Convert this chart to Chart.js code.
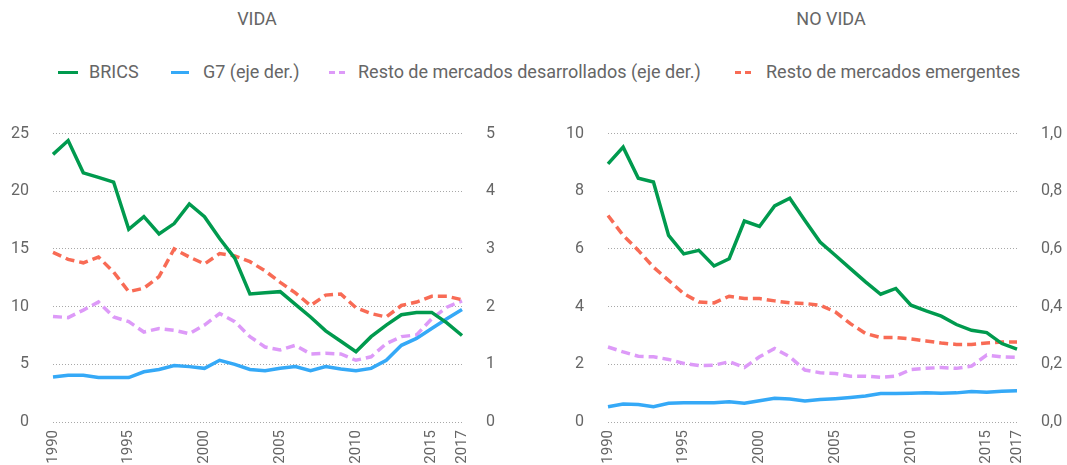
<!DOCTYPE html>
<html>
<head>
  <title>VIDA / NO VIDA</title>
  <script src="https://cdn.jsdelivr.net/npm/chart.js"></script>
  <style>
    body { margin: 0; background: #fff; font-family: Roboto, sans-serif; color: #666; }
    #wrap { position: relative; width: 1067px; height: 465px; overflow: hidden; }
    .title { position: absolute; top: 8px; font-size: 18px; transform: translateX(-50%); white-space: nowrap; }
    .leg { position: absolute; top: 61px; font-size: 18px; white-space: nowrap; line-height: 22px; }
    .mark { position: absolute; top: 71px; height: 3px; }
    .box { position: absolute; top: 100px; height: 365px; }
  </style>
</head>
<body>
<div id="wrap">
  <div class="title" style="left:257px">VIDA</div>
  <div class="title" style="left:831px">NO VIDA</div>

  <div class="mark" style="left:58px;width:20px;background:#009a4e"></div>
  <div class="leg" style="left:89px">BRICS</div>
  <div class="mark" style="left:171px;width:18px;background:#35a9f7"></div>
  <div class="leg" style="left:203px">G7 (eje der.)</div>
  <div class="mark" style="left:329px;width:6px;background:#dd9af8"></div>
  <div class="mark" style="left:339px;width:6px;background:#dd9af8"></div>
  <div class="leg" style="left:358px">Resto de mercados desarrollados (eje der.)</div>
  <div class="mark" style="left:735px;width:6px;background:#f86b55"></div>
  <div class="mark" style="left:745px;width:6px;background:#f86b55"></div>
  <div class="leg" style="left:766px">Resto de mercados emergentes</div>

  <div class="box" style="left:0;width:533px"><canvas id="vida" width="533" height="365"></canvas></div>
  <div class="box" style="left:533px;width:534px"><canvas id="noVida" width="534" height="365"></canvas></div>
</div>

<script>
  const years = [1990, 1991, 1992, 1993, 1994, 1995, 1996, 1997, 1998, 1999,
                 2000, 2001, 2002, 2003, 2004, 2005, 2006, 2007, 2008, 2009,
                 2010, 2011, 2012, 2013, 2014, 2015, 2016, 2017];
  const shownYears = [1990, 1995, 2000, 2005, 2010, 2015, 2017];

  // VIDA (BRICS y emergentes en eje izq., G7 y desarrollados en eje der.)
  const vidaBrics = [23.2, 24.4, 21.6, 21.2, 20.8, 16.7, 17.8, 16.3, 17.2, 18.9,
                     17.8, 15.9, 14.2, 11.1, 11.2, 11.3, 10.2, 9.1, 7.9, 7.0,
                     6.1, 7.4, 8.4, 9.3, 9.5, 9.5, 8.6, 7.5];
  const vidaG7 = [0.78, 0.81, 0.81, 0.77, 0.77, 0.77, 0.87, 0.91, 0.98, 0.96,
                  0.93, 1.07, 1.00, 0.91, 0.89, 0.93, 0.96, 0.89, 0.96, 0.92,
                  0.89, 0.93, 1.07, 1.33, 1.45, 1.62, 1.79, 1.95];
  const vidaDesarr = [1.83, 1.81, 1.94, 2.08, 1.82, 1.74, 1.56, 1.62, 1.59, 1.53,
                      1.68, 1.88, 1.74, 1.48, 1.30, 1.25, 1.33, 1.18, 1.19, 1.18,
                      1.07, 1.13, 1.36, 1.48, 1.51, 1.79, 1.99, 2.10];
  const vidaEmerg = [14.7, 14.1, 13.8, 14.3, 13.0, 11.3, 11.6, 12.6, 15.0, 14.3,
                     13.7, 14.6, 14.4, 13.9, 13.1, 12.1, 11.2, 10.1, 11.0, 11.1,
                     9.9, 9.4, 9.1, 10.1, 10.4, 10.9, 10.9, 10.6];

  // NO VIDA
  const noVidaBrics = [8.95, 9.53, 8.45, 8.32, 6.47, 5.83, 5.95, 5.41, 5.66, 6.97,
                       6.78, 7.49, 7.76, 6.99, 6.24, 5.78, 5.32, 4.86, 4.43, 4.63,
                       4.05, 3.85, 3.67, 3.38, 3.18, 3.10, 2.72, 2.53];
  const noVidaG7 = [0.053, 0.062, 0.061, 0.053, 0.065, 0.067, 0.067, 0.067, 0.070, 0.065,
                    0.074, 0.082, 0.080, 0.073, 0.078, 0.081, 0.085, 0.090, 0.099, 0.099,
                    0.100, 0.101, 0.100, 0.101, 0.106, 0.103, 0.107, 0.108];
  const noVidaDesarr = [0.260, 0.243, 0.228, 0.226, 0.217, 0.203, 0.196, 0.197, 0.209, 0.189,
                        0.226, 0.255, 0.226, 0.180, 0.171, 0.168, 0.159, 0.159, 0.155, 0.159,
                        0.182, 0.186, 0.189, 0.186, 0.194, 0.232, 0.226, 0.224];
  const noVidaEmerg = [7.16, 6.47, 5.95, 5.37, 4.91, 4.45, 4.16, 4.13, 4.36, 4.28,
                       4.28, 4.20, 4.13, 4.11, 4.05, 3.82, 3.41, 3.07, 2.93, 2.93,
                       2.88, 2.81, 2.74, 2.69, 2.69, 2.74, 2.77, 2.77];

  const GREEN = "#009a4e", BLUE = "#35a9f7", PURPLE = "#dd9af8", ORANGE = "#f86b55";
  const TEXT = "#666";
  const tickFont = { family: "Roboto", size: 16 };

  function makeChart(id, data, sizes) {
    const ctx = document.getElementById(id).getContext("2d");
    return new Chart(ctx, {
      type: "line",
      data: {
        labels: years,
        datasets: [
          { label: "BRICS", data: data.brics, yAxisID: "yL", borderColor: GREEN, borderWidth: 3.5, order: 0 },
          { label: "G7 (eje der.)", data: data.g7, yAxisID: "yR", borderColor: BLUE, borderWidth: 3.5, order: 1 },
          { label: "Resto de mercados emergentes", data: data.emerg, yAxisID: "yL", borderColor: ORANGE, borderWidth: 3.5, borderDash: [9, 5], order: 2 },
          { label: "Resto de mercados desarrollados (eje der.)", data: data.desarr, yAxisID: "yR", borderColor: PURPLE, borderWidth: 3.5, borderDash: [9, 5], order: 3 }
        ]
      },
      options: {
        responsive: false,
        animation: false,
        layout: { padding: { top: 33, right: 0, left: 0, bottom: 0 } },
        elements: { point: { radius: 0 }, line: { tension: 0, borderJoinStyle: "miter" } },
        plugins: { legend: { display: false }, tooltip: { enabled: false } },
        scales: {
          x: {
            grid: { display: false },
            border: { display: false },
            ticks: {
              autoSkip: false, minRotation: 90, maxRotation: 90, padding: 0,
              color: TEXT, font: { family: "Roboto", size: 15 },
              callback: (v, i) => shownYears.includes(years[i]) ? String(years[i]) : ""
            },
            afterFit: s => { s.height = 43; }
          },
          yL: {
            position: "left", min: 0, max: sizes.leftMax,
            grid: { color: "#a8a8a8", lineWidth: 1, drawTicks: false },
            border: { display: false, dash: [1, 2] },
            ticks: { stepSize: sizes.leftStep, padding: sizes.leftPad, color: TEXT, font: tickFont },
            afterFit: s => { s.width = sizes.leftW; }
          },
          yR: {
            position: "right", min: 0, max: sizes.rightMax,
            grid: { display: false, drawTicks: false },
            border: { display: false },
            ticks: {
              stepSize: sizes.rightStep, padding: 24, color: TEXT, font: tickFont,
              callback: sizes.rightFmt
            },
            afterFit: s => { s.width = sizes.rightW; }
          }
        }
      }
    });
  }

  makeChart("vida",
    { brics: vidaBrics, g7: vidaG7, desarr: vidaDesarr, emerg: vidaEmerg },
    { leftMax: 25, leftStep: 5, rightMax: 5, rightStep: 1, leftW: 53, rightW: 71, leftPad: 24,
      rightFmt: v => String(Math.round(v)) });

  makeChart("noVida",
    { brics: noVidaBrics, g7: noVidaG7, desarr: noVidaDesarr, emerg: noVidaEmerg },
    { leftMax: 10, leftStep: 2, rightMax: 1, rightStep: 0.2, leftW: 75, rightW: 50, leftPad: 24,
      rightFmt: v => v.toFixed(1).replace(".", ",") });
</script>
</body>
</html>
